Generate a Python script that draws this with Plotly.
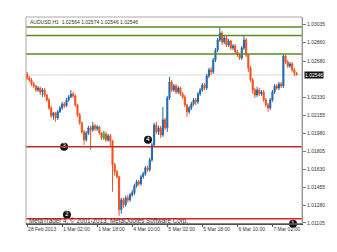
import plotly.graph_objects as go

# AUDUSD H1 candles (bar index 0 = 28 Feb 2013 10:00)
open_ = [1.02556,1.02517,1.02497,1.02458,1.02439,1.02400,1.02419,1.02381,1.02400,1.02351,
         1.02303,1.02225,1.02148,1.02177,1.02128,1.02187,1.02225,1.02264,1.02245,1.02303,
         1.02332,1.02361,1.02342,1.02254,1.02157,1.02080,1.01992,1.01914,1.01982,1.02031,
         1.02011,1.02051,1.02022,1.02041,1.01982,1.01933,1.01972,1.01914,1.01953,1.01904,
         1.01671,1.01604,1.01555,1.01234,1.01331,1.01282,1.01350,1.01331,1.01379,1.01399,
         1.01468,1.01507,1.01487,1.01555,1.01584,1.01642,1.01623,1.01720,1.01865,1.02060,
         1.01992,1.02031,1.01962,1.02109,1.02031,1.02322,1.02478,1.02400,1.02439,1.02381,
         1.02419,1.02361,1.02332,1.02254,1.02187,1.02225,1.02264,1.02303,1.02284,1.02361,
         1.02400,1.02448,1.02419,1.02536,1.02595,1.02576,1.02692,1.02789,1.02886,1.02954,
         1.02867,1.02906,1.02838,1.02876,1.02808,1.02828,1.02770,1.02740,1.02711,1.02808,
         1.02886,1.02740,1.02614,1.02497,1.02400,1.02351,1.02400,1.02361,1.02381,1.02303,
         1.02254,1.02225,1.02303,1.02381,1.02439,1.02419,1.02458,1.02439,1.02731,1.02672,
         1.02633,1.02653,1.02595,1.02564]
high = [1.02576,1.02537,1.02517,1.02478,1.02448,1.02439,1.02429,1.02419,1.02419,1.02361,
        1.02322,1.02245,1.02187,1.02187,1.02206,1.02245,1.02284,1.02284,1.02322,1.02351,
        1.02400,1.02381,1.02361,1.02264,1.02177,1.02090,1.02011,1.02001,1.02051,1.02051,
        1.02090,1.02070,1.02060,1.02051,1.01992,1.02001,1.01992,1.01972,1.01972,1.01914,
        1.01691,1.01623,1.01565,1.01350,1.01350,1.01370,1.01379,1.01399,1.01428,1.01487,
        1.01526,1.01526,1.01574,1.01604,1.01662,1.01662,1.01739,1.01885,1.02080,1.02090,
        1.02051,1.02051,1.02235,1.02128,1.02342,1.02527,1.02497,1.02458,1.02458,1.02439,
        1.02429,1.02381,1.02351,1.02264,1.02245,1.02284,1.02322,1.02322,1.02381,1.02419,
        1.02468,1.02468,1.02556,1.02614,1.02624,1.02711,1.02808,1.02906,1.03013,1.02973,
        1.02925,1.02925,1.02896,1.02886,1.02847,1.02847,1.02789,1.02760,1.02828,1.02925,
        1.02906,1.02750,1.02633,1.02517,1.02419,1.02429,1.02419,1.02400,1.02400,1.02322,
        1.02274,1.02322,1.02400,1.02458,1.02458,1.02478,1.02478,1.02750,1.02740,1.02692,
        1.02672,1.02672,1.02614,1.02574]
low = [1.02497,1.02478,1.02439,1.02419,1.02381,1.02381,1.02351,1.02332,1.02332,1.02284,
       1.02206,1.02128,1.02109,1.02090,1.02109,1.02177,1.02206,1.02225,1.02235,1.02284,
       1.02322,1.02322,1.02235,1.02138,1.02060,1.01972,1.01865,1.01895,1.01962,1.01817,
       1.01992,1.02001,1.02001,1.01962,1.01914,1.01914,1.01895,1.01895,1.01846,1.01409,
       1.01565,1.01536,1.01176,1.01195,1.01253,1.01263,1.01302,1.01312,1.01360,1.01379,
       1.01448,1.01468,1.01468,1.01536,1.01565,1.01604,1.01604,1.01701,1.01846,1.01972,
       1.01962,1.01933,1.01943,1.02011,1.01992,1.02303,1.02381,1.02381,1.02361,1.02361,
       1.02342,1.02313,1.02235,1.02138,1.02167,1.02206,1.02245,1.02254,1.02264,1.02342,
       1.02381,1.02400,1.02400,1.02517,1.02546,1.02556,1.02672,1.02770,1.02867,1.02838,
       1.02847,1.02818,1.02818,1.02789,1.02789,1.02750,1.02721,1.02692,1.02692,1.02789,
       1.02721,1.02576,1.02478,1.02361,1.02322,1.02332,1.02342,1.02342,1.02284,1.02235,
       1.02187,1.02206,1.02284,1.02361,1.02400,1.02400,1.02419,1.02419,1.02653,1.02614,
       1.02614,1.02576,1.02536,1.02546]
close = [1.02517,1.02497,1.02458,1.02439,1.02400,1.02419,1.02381,1.02400,1.02351,1.02303,
         1.02225,1.02148,1.02177,1.02128,1.02187,1.02225,1.02264,1.02245,1.02303,1.02332,
         1.02361,1.02342,1.02254,1.02157,1.02080,1.01992,1.01914,1.01982,1.02031,1.02011,
         1.02051,1.02022,1.02041,1.01982,1.01933,1.01972,1.01914,1.01953,1.01904,1.01671,
         1.01604,1.01555,1.01234,1.01331,1.01282,1.01350,1.01331,1.01379,1.01399,1.01468,
         1.01507,1.01487,1.01555,1.01584,1.01642,1.01623,1.01720,1.01865,1.02060,1.01992,
         1.02031,1.01962,1.02109,1.02031,1.02322,1.02478,1.02400,1.02439,1.02381,1.02419,
         1.02361,1.02332,1.02254,1.02187,1.02225,1.02264,1.02303,1.02284,1.02361,1.02400,
         1.02448,1.02419,1.02536,1.02595,1.02576,1.02692,1.02789,1.02886,1.02954,1.02867,
         1.02906,1.02838,1.02876,1.02808,1.02828,1.02770,1.02740,1.02711,1.02808,1.02886,
         1.02740,1.02614,1.02497,1.02400,1.02351,1.02400,1.02361,1.02381,1.02303,1.02254,
         1.02225,1.02303,1.02381,1.02439,1.02419,1.02458,1.02439,1.02731,1.02672,1.02633,
         1.02653,1.02595,1.02566,1.02546]
highlight_bars = [35]

time_tick_bars = [0, 16, 32, 48, 64, 80, 96, 112]
time_tick_labels = ["28 Feb 2013", "1 Mar 02:00", "1 Mar 18:00", "4 Mar 10:00",
                    "5 Mar 02:00", "5 Mar 18:00", "6 Mar 10:00", "7 Mar 02:00"]
# 1.02505 sits behind the current-price tag in the reference, so it is not labelled
price_ticks = [1.03035, 1.02860, 1.02680, 1.02330, 1.02155, 1.01980,
               1.01805, 1.01630, 1.01455, 1.01280, 1.01105]
price_tick_labels = ["%.5f" % v for v in price_ticks]

green_levels = [1.03013, 1.02930, 1.02750]
red_levels = [1.01846, 1.01146]
red_colors = ["#b5302a", "#e8221a"]

marker_labels = ["1", "2", "3", "4"]
marker_bars = [121.4, 18.2, 16.9, 55.2]
marker_prices = [1.01098, 1.01185, 1.01846, 1.01914]

header = "AUDUSD,H1  1.02564 1.02574 1.02546 1.02546"
footer = "MetaTrader 4, © 2001-2013, MetaQuotes Software Corp."

bars = list(range(len(close)))
FONT = "Liberation Sans"

fig = go.Figure()
fig.add_trace(go.Candlestick(
    x=bars, open=open_, high=high, low=low, close=close,
    increasing=dict(line=dict(color="#2468a8", width=1), fillcolor="#2468a8"),
    decreasing=dict(line=dict(color="#f4511e", width=1), fillcolor="#f4511e"),
    whiskerwidth=0, showlegend=False, hoverinfo="skip"))
fig.add_trace(go.Candlestick(
    x=highlight_bars,
    open=[open_[i] for i in highlight_bars], high=[high[i] for i in highlight_bars],
    low=[low[i] for i in highlight_bars], close=[close[i] for i in highlight_bars],
    increasing=dict(line=dict(color="#3cc83c", width=1), fillcolor="#3cc83c"),
    decreasing=dict(line=dict(color="#3cc83c", width=1), fillcolor="#3cc83c"),
    whiskerwidth=0, showlegend=False, hoverinfo="skip"))

shapes = []
shapes.append(dict(type="line", xref="paper", x0=0, x1=1, y0=close[-1], y1=close[-1],
                   line=dict(color="#d9d9d9", width=1), layer="below"))
for lv in green_levels:
    shapes.append(dict(type="line", xref="paper", x0=0, x1=1, y0=lv, y1=lv,
                       line=dict(color="#5b8c1e", width=1.5)))
for lv, c in zip(red_levels, red_colors):
    shapes.append(dict(type="line", xref="paper", x0=0, x1=1, y0=lv, y1=lv,
                       line=dict(color=c, width=1.5)))
shapes.append(dict(type="rect", xref="paper", yref="paper", x0=0, x1=1, y0=0, y1=1,
                   line=dict(color="#a8a8a8", width=1)))
shapes.append(dict(type="line", xref="paper", yref="paper", x0=0, x1=1, y0=0, y1=0,
                   line=dict(color="#333333", width=1)))

fig.add_trace(go.Scatter(
    x=marker_bars, y=marker_prices, mode="markers+text", text=marker_labels,
    marker=dict(size=8, color="#111111"),
    textfont=dict(color="white", size=6, family="DejaVu Sans"),
    textposition="middle center", cliponaxis=False, showlegend=False, hoverinfo="skip"))

annotations = [
    dict(xref="paper", yref="paper", x=0.008, y=0.978, text=header, showarrow=False,
         xanchor="left", yanchor="middle", font=dict(family=FONT, size=5, color="#333")),
    dict(xref="paper", yref="paper", x=0.004, y=0.013, text=footer, showarrow=False,
         xanchor="left", yanchor="middle", font=dict(family=FONT, size=6.3, color="#333")),
    dict(xref="paper", yref="y", x=1.0, y=close[-1], text="%.5f" % close[-1], showarrow=False,
         xanchor="left", yanchor="middle", xshift=2, bgcolor="#111111", borderpad=0,
         font=dict(family=FONT, size=5, color="white")),
]

fig.update_layout(
    width=337, height=252,
    margin=dict(l=26, r=35, t=17, b=28, autoexpand=False),
    paper_bgcolor="white", plot_bgcolor="white",
    shapes=shapes, annotations=annotations,
    showlegend=False,
    font=dict(family=FONT, size=5, color="#333"),
    xaxis=dict(range=[-0.5, 125.5], rangeslider=dict(visible=False),
               tickvals=time_tick_bars, ticktext=time_tick_labels,
               ticklabelposition="outside right", tickangle=0, automargin=False,
               ticks="outside", ticklen=2, tickcolor="#555",
               showgrid=False, zeroline=False, showline=True, linecolor="#333",
               tickfont=dict(family=FONT, size=5, color="#333")),
    yaxis=dict(range=[1.01095, 1.03110], side="right", automargin=False,
               tickvals=price_ticks, ticktext=price_tick_labels,
               ticks="outside", ticklen=3, tickcolor="#777",
               showgrid=False, zeroline=False, showline=True, linecolor="#808080",
               tickfont=dict(family=FONT, size=5, color="#333")),
)

fig.write_html("out.html")
